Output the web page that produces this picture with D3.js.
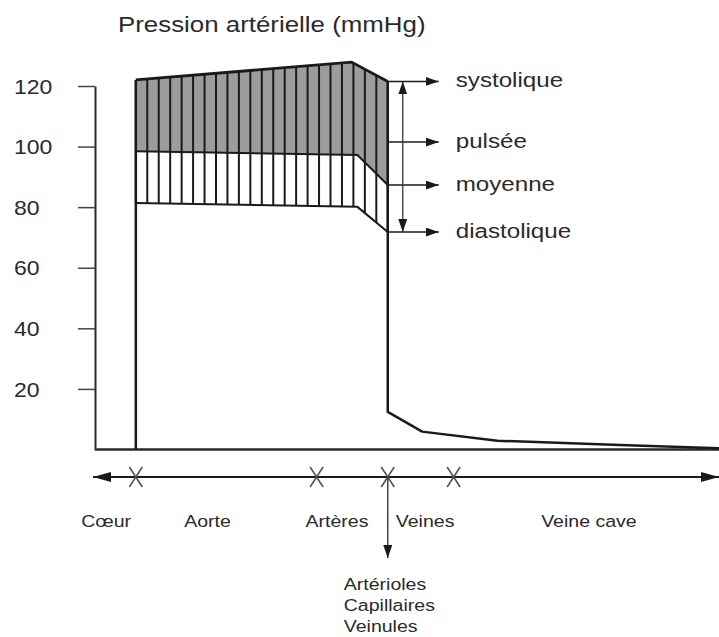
<!DOCTYPE html>
<html>
<head>
<meta charset="utf-8">
<script src="https://cdn.jsdelivr.net/npm/d3@7"></script>
<style>
body { margin: 0; background: #fff; }
text { font-family: "Liberation Sans", Arial, Helvetica, sans-serif; fill: #2a2a2a; }
</style>
</head>
<body>
<svg></svg>
<script>

// position along the circulation, arbitrary units (Coeur = 0, end of veine cave = 100)
var systolicPos = [0, 37, 43.2];
var systolicVal = [122, 127.9, 121.5];
var meanPos = [0, 38, 43.2];
var meanVal = [98.5, 97.2, 87.3];
var diastolicPos = [0, 38, 43.2];
var diastolicVal = [81.4, 80.1, 71.8];
var venousPos = [43.2, 49.1, 62, 83, 100];
var venousVal = [12.4, 5.9, 2.9, 1.5, 0.4];

var yTicks = [20, 40, 60, 80, 100, 120];

var pressureNames = ['systolique', 'pulsée', 'moyenne', 'diastolique'];
var pressureLevels = [121.5, 101.5, 87.3, 71.8];

var siteMarks = [0, 31, 43.2, 54.5];
var segmentNames = ['Cœur', 'Aorte', 'Artères', 'Veines', 'Veine cave'];
var segmentPos = [-5.1, 12.3, 34.5, 49.6, 77.7];
var smallVessels = ['Artérioles', 'Capillaires', 'Veinules'];
var stripeCount = 23;

var stretch = 1.15;  // the reference text is set a little wide

var svg = d3.select('svg')
   .attr('width', 719)
   .attr('height', 637)

var x = d3.scaleLinear().domain([-7, 100]).range([95, 719]);
var y = d3.scaleLinear().domain([0, 120]).range([449.5, 86]);

var sys = d3.scaleLinear().domain(systolicPos).range(systolicVal);
var mean = d3.scaleLinear().domain(meanPos).range(meanVal);
var dia = d3.scaleLinear().domain(diastolicPos).range(diastolicVal);
var capPos = systolicPos[systolicPos.length - 1];

var line = d3.line()
   .x(function (d) { return x(d[0]); })
   .y(function (d) { return y(d[1]); });

function pts(pos, val) {
   return pos.map(function (p, i) { return [p, val[i]]; });
}

function label(g, txt, px, py, size, anchor) {
   return g.append('text')
      .attr('transform', 'translate(' + px + ',' + py + ') scale(' + stretch + ',1)')
      .attr('font-size', size)
      .attr('text-anchor', anchor || 'start')
      .text(txt);
}

// arrowheads
var defs = svg.append('defs');
function marker(id, w, h) {
   defs.append('marker')
      .attr('id', id)
      .attr('viewBox', '0 0 ' + w + ' ' + h)
      .attr('refX', w).attr('refY', h / 2)
      .attr('markerWidth', w).attr('markerHeight', h)
      .attr('markerUnits', 'userSpaceOnUse')
      .attr('orient', 'auto-start-reverse')
      .append('path')
      .attr('d', 'M0,0L' + w + ',' + (h / 2) + 'L0,' + h + 'Z')
      .attr('fill', '#1a1a1a');
}
marker('head', 13, 9);
marker('bighead', 18, 10);

// title
label(svg, 'Pression artérielle (mmHg)', 118, 32, 22.5);

// y axis
var yAxis = svg.append('g')
   .attr('transform', 'translate(' + x(-7) + ',0)')
   .call(d3.axisLeft(y).tickValues(yTicks).tickSize(17).tickSizeOuter(0));
yAxis.select('.domain').attr('stroke', '#2a2a2a').attr('stroke-width', 2);
yAxis.selectAll('.tick line').attr('stroke', '#444').attr('stroke-width', 1.5);
yAxis.selectAll('.tick text')
   .attr('font-family', '"Liberation Sans", Arial, sans-serif')
   .attr('font-size', 20)
   .attr('fill', '#2a2a2a')
   .attr('text-anchor', 'start')
   .attr('x', -81 / stretch)
   .attr('dy', '0.36em')
   .attr('transform', 'scale(' + stretch + ',1)');

// baseline
svg.append('line')
   .attr('x1', x(-7)).attr('x2', x(100))
   .attr('y1', y(0)).attr('y2', y(0))
   .attr('stroke', '#2a2a2a').attr('stroke-width', 2.5);

// gray band between systolic and mean
var grayPts = pts(systolicPos, systolicVal).concat(pts(meanPos, meanVal).reverse());
svg.append('path')
   .attr('d', line(grayPts) + 'Z')
   .attr('fill', '#9c9c9c');

// vertical stripes between systolic and diastolic
var stripes = d3.range(stripeCount).map(function (i) { return i * capPos / (stripeCount - 1); });
svg.append('g')
   .selectAll('line')
   .data(stripes)
   .enter()
   .append('line')
   .attr('x1', function (d) { return x(d); })
   .attr('x2', function (d) { return x(d); })
   .attr('y1', function (d) { return y(sys(d)); })
   .attr('y2', function (d) { return y(dia(d)); })
   .attr('stroke', '#1a1a1a')
   .attr('stroke-width', 2);

[[meanPos, meanVal, 2], [diastolicPos, diastolicVal, 2], [systolicPos, systolicVal, 2.8]].forEach(function (s) {
   svg.append('path')
      .attr('d', line(pts(s[0], s[1])))
      .attr('fill', 'none')
      .attr('stroke', '#1a1a1a')
      .attr('stroke-width', s[2]);
});

// heart edge and the drop into the venous side
svg.append('path')
   .attr('d', line([[0, 0], [0, sys(0)]]))
   .attr('fill', 'none').attr('stroke', '#1a1a1a').attr('stroke-width', 2.5);
svg.append('path')
   .attr('d', line([[capPos, sys(capPos)]].concat(pts(venousPos, venousVal))))
   .attr('fill', 'none').attr('stroke', '#1a1a1a').attr('stroke-width', 2.5)
   .attr('stroke-linejoin', 'round');

// pressure labels with arrows
var px0 = x(capPos);
pressureLevels.forEach(function (v, i) {
   svg.append('line')
      .attr('x1', px0).attr('x2', px0 + 51)
      .attr('y1', y(v)).attr('y2', y(v))
      .attr('stroke', '#1a1a1a').attr('stroke-width', 1.5)
      .attr('marker-end', 'url(#head)');
   label(svg, pressureNames[i], px0 + 68, y(v) + 6, 21);
});

// pulse pressure double arrow
svg.append('line')
   .attr('x1', px0 + 15).attr('x2', px0 + 15)
   .attr('y1', y(pressureLevels[0])).attr('y2', y(pressureLevels[3]))
   .attr('stroke', '#333').attr('stroke-width', 1.3)
   .attr('marker-start', 'url(#head)')
   .attr('marker-end', 'url(#head)');

// circulation axis
var axY = 477;
svg.append('line')
   .attr('x1', x(100)).attr('x2', x(-7) - 2)
   .attr('y1', axY).attr('y2', axY)
   .attr('stroke', '#1a1a1a').attr('stroke-width', 2)
   .attr('marker-start', 'url(#bighead)')
   .attr('marker-end', 'url(#bighead)');

svg.append('g')
   .selectAll('path')
   .data(siteMarks)
   .enter()
   .append('path')
   .attr('d', function (d) {
      var cx = x(d);
      return 'M' + (cx - 6.5) + ',' + (axY - 10) + 'L' + (cx + 6.5) + ',' + (axY + 10) +
         'M' + (cx + 6.5) + ',' + (axY - 10) + 'L' + (cx - 6.5) + ',' + (axY + 10);
   })
   .attr('fill', 'none')
   .attr('stroke', '#555')
   .attr('stroke-width', 1.6);

segmentNames.forEach(function (s, i) {
   label(svg, s, x(segmentPos[i]), 527, 17, 'middle');
});

// arrow down to the small vessels
svg.append('line')
   .attr('x1', px0).attr('x2', px0)
   .attr('y1', axY).attr('y2', 558)
   .attr('stroke', '#444').attr('stroke-width', 1.5)
   .attr('marker-end', 'url(#head)');

smallVessels.forEach(function (s, i) {
   label(svg, s, px0 - 44, 590 + i * 21, 17);
});

</script>
</body>
</html>
